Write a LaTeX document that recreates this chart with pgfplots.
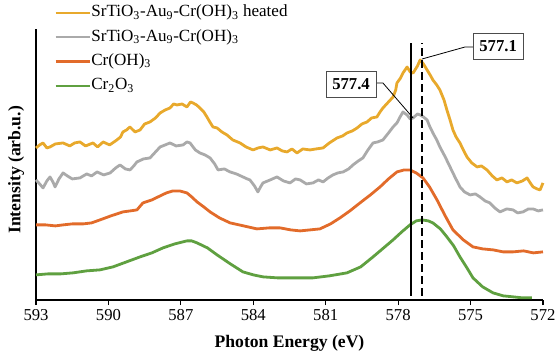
\documentclass[border=0pt]{standalone}
\usepackage{fontspec}
\setmainfont{Liberation Serif}
\usepackage{pgfplots}
\pgfplotsset{compat=1.18}
\definecolor{cgold}{HTML}{E8A92C}
\definecolor{cgray}{HTML}{AAAAAA}
\definecolor{corange}{HTML}{E26B2A}
\definecolor{cgreen}{HTML}{5FA040}
\begin{document}
\begin{tikzpicture}
\begin{axis}[
  scale only axis, width=380pt, height=203pt,
  x dir=reverse, xmin=572, xmax=593, ymin=0, ymax=271,
  axis x line*=bottom, axis y line*=left,
  axis line style={line width=1pt},
  xtick={572,575,578,581,584,587,590,593}, ytick=\empty,
  tick align=outside, major tick length=4pt,
  every tick/.style={black, line width=0.8pt},
  /pgf/number format/assume math mode=true,
  /pgf/number format/1000 sep={},
  tick label style={font=\fontsize{12.5}{15}\selectfont},
  xlabel={\textbf{Photon Energy (eV)}},
  ylabel={\textbf{Intensity (arb.u.)}},
  label style={font=\fontsize{13.2}{15}\selectfont},
  x label style={at={(axis description cs:0.5,-0.159)}, anchor=center},
  y label style={at={(axis description cs:-0.039,0.48)}, anchor=center},
  clip=false,
  legend style={at={(axis description cs:0.036,1.09)}, anchor=north west,
    draw=none, fill=none, font=\fontsize{12.8}{14}\selectfont,
    row sep=6.2pt, inner sep=0pt,
    nodes={inner sep=0pt, text height=9pt, text depth=3pt}},
  legend cell align=left,
  legend image code/.code={\draw[#1, line width=1.6pt] (0pt,0pt) -- (26pt,0pt);},
  /tikz/every even column/.append style={column sep=3pt},
  every axis plot/.append style={line width=2.1pt, line join=round},
]
\addplot[cgold] coordinates {
(593.00,152) (592.85,155) (592.71,157) (592.55,152) (592.42,153) (592.20,156) (591.88,157) (591.60,154) (591.40,157) (591.18,158) (590.95,154) (590.64,157) (590.45,153) (590.22,158) (589.95,155) (589.65,160) (589.50,163) (589.40,168) (589.25,170) (589.11,173) (588.90,168) (588.69,170) (588.50,176) (588.28,178) (588.05,182) (587.86,187) (587.65,190) (587.45,192) (587.30,196) (587.16,195) (586.95,196) (586.75,193) (586.60,198) (586.50,197) (586.35,195) (586.21,192) (586.05,188) (585.92,183) (585.80,178) (585.67,173) (585.50,172) (585.30,168) (585.09,165) (584.85,160) (584.55,157) (584.30,153) (584.01,150) (583.80,152) (583.60,153) (583.30,150) (583.02,152) (582.80,149) (582.60,148) (582.40,151) (582.19,147) (581.95,151) (581.65,150) (581.40,151) (581.11,152) (580.85,157) (580.53,162) (580.30,164) (580.12,167) (579.90,169) (579.70,172) (579.50,176) (579.29,178) (579.10,182) (578.88,183) (578.75,188) (578.63,192) (578.40,198) (578.21,203) (578.10,210) (578.05,217) (577.90,222) (577.80,227) (577.63,233) (577.50,228) (577.38,227) (577.20,234) (577.09,240) (576.95,236) (576.80,230) (576.65,224) (576.56,220) (576.40,215) (576.27,210) (576.10,200) (575.98,190) (575.85,180) (575.73,170) (575.60,163) (575.44,157) (575.30,150) (575.15,143) (574.95,137) (574.73,133) (574.55,134) (574.32,130) (574.10,124) (573.91,120) (573.70,122) (573.49,118) (573.30,120) (573.08,117) (572.85,119) (572.66,122) (572.50,116) (572.41,113) (572.25,111) (572.12,110) (572.00,117)
};
\addlegendentry{SrTiO\textsubscript{3}-Au\textsubscript{9}-Cr(OH)\textsubscript{3} heated}
\addplot[cgray] coordinates {
(593.00,120) (592.85,116) (592.71,112) (592.55,119) (592.42,123) (592.30,118) (592.21,113) (592.05,121) (591.88,127) (591.70,124) (591.50,121) (591.18,122) (590.90,126) (590.70,124) (590.47,128) (590.20,125) (589.93,127) (589.70,132) (589.52,135) (589.30,131) (589.11,130) (588.95,134) (588.82,138) (588.55,141) (588.28,142) (588.05,148) (587.86,153) (587.65,155) (587.45,157) (587.20,154) (586.91,155) (586.75,158) (586.62,157) (586.40,150) (586.21,147) (586.00,145) (585.79,142) (585.60,136) (585.46,130) (585.20,131) (584.96,128) (584.70,126) (584.43,123) (584.25,121) (584.14,120) (583.95,114) (583.81,108) (583.70,113) (583.60,117) (583.30,120) (583.02,123) (582.75,119) (582.48,117) (582.25,121) (582.06,120) (581.80,116) (581.53,117) (581.30,120) (581.11,118) (580.90,122) (580.70,125) (580.50,127) (580.28,128) (580.05,131) (579.87,135) (579.65,139) (579.46,142) (579.25,150) (579.04,157) (578.85,158) (578.63,160) (578.40,167) (578.21,173) (578.05,177) (577.92,183) (577.80,188) (577.63,185) (577.50,181) (577.38,182) (577.20,186) (577.09,185) (576.95,183) (576.80,180) (576.70,174) (576.56,167) (576.40,160) (576.27,153) (576.05,143) (575.85,133) (575.65,123) (575.44,113) (575.25,108) (575.02,105) (574.80,106) (574.61,103) (574.40,99) (574.20,97) (574.00,92) (573.78,88) (573.50,91) (573.24,90) (573.05,87) (572.83,88) (572.60,91) (572.41,91) (572.20,89) (572.00,90)
};
\addlegendentry{SrTiO\textsubscript{3}-Au\textsubscript{9}-Cr(OH)\textsubscript{3}}
\addplot[corange] coordinates {
(593.00,75) (592.60,75) (592.20,74) (591.88,75) (591.50,76) (591.05,76) (590.70,77) (590.35,80) (589.90,84) (589.40,88) (589.10,89) (588.82,90) (588.57,97) (588.20,100) (587.86,104) (587.60,107) (587.33,109) (587.05,109) (586.75,107) (586.55,103) (586.33,98) (586.05,93) (585.79,88) (585.40,82) (584.96,77) (584.40,74) (583.85,71) (583.35,72) (582.89,72) (582.45,70) (582.06,69) (581.65,70) (581.24,71) (580.80,76) (580.41,82) (580.00,89) (579.58,97) (579.15,105) (578.75,113) (578.40,121) (578.05,128) (577.75,130) (577.51,130) (577.25,127) (576.97,122) (576.70,113) (576.39,100) (576.05,84) (575.73,70) (575.30,60) (574.90,53) (574.50,51) (574.07,50) (573.65,48) (573.24,48) (572.80,49) (572.40,47) (572.00,48)
};
\addlegendentry{Cr(OH)\textsubscript{3}}
\addplot[cgreen] coordinates {
(593.00,25) (592.50,26) (591.97,26) (591.47,27) (590.90,29) (590.35,30) (589.81,33) (589.25,38) (588.69,43) (588.20,47) (587.74,52) (587.25,56) (586.75,59) (586.55,59) (586.33,57) (585.90,52) (585.50,45) (584.95,36) (584.43,28) (584.00,25) (583.60,23) (583.00,22) (582.48,22) (582.00,22) (581.53,22) (580.85,24) (580.12,27) (579.55,33) (579.04,43) (578.60,52) (578.21,60) (577.85,68) (577.51,75) (577.25,79) (577.01,80) (576.75,79) (576.56,77) (576.25,71) (575.98,63) (575.70,54) (575.44,43) (575.15,32) (574.90,22) (574.50,13) (574.07,7) (573.65,4) (573.24,3) (572.85,2) (572.46,2)
};
\addlegendentry{Cr\textsubscript{2}O\textsubscript{3}}
\addplot[black, line width=1.5pt, forget plot] coordinates {(577.47,4) (577.47,257)};
\addplot[black, line width=1.5pt, dash pattern=on 6pt off 3pt, forget plot] coordinates {(577.03,4) (577.03,257)};
\draw[black, line width=0.6pt] (axis cs:577.01,241) -- (axis cs:575.23,253) -- (axis cs:574.90,253);
\draw[black, line width=0.6pt] (axis cs:578.88,217) -- (axis cs:578.63,217) -- (axis cs:577.38,182);
\node[draw=black!70, line width=0.6pt, fill=white, inner sep=0pt, minimum width=37.5pt, minimum height=19.5pt, font=\bfseries\fontsize{12.5}{15}\selectfont] at (axis cs:573.86,254) {577.1};
\node[draw=black!70, line width=0.6pt, fill=white, inner sep=0pt, minimum width=37.5pt, minimum height=19.5pt, font=\bfseries\fontsize{12.5}{15}\selectfont] at (axis cs:579.95,216) {577.4};
\end{axis}
\pgfresetboundingbox
\path ([shift={(-27pt,-39.75pt)}]current axis.south west) rectangle ([shift={(9.75pt,21.75pt)}]current axis.north east);
\end{tikzpicture}
\end{document}
